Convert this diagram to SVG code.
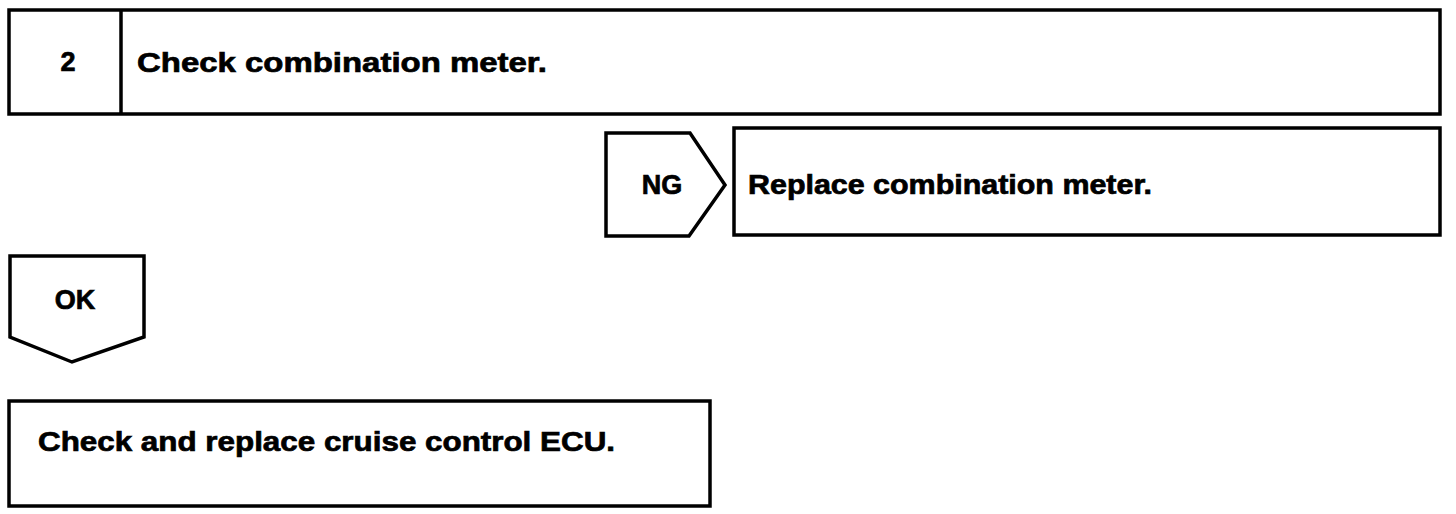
<svg xmlns="http://www.w3.org/2000/svg" width="1456" height="514" viewBox="0 0 1456 514">
<style>
.b{fill:#fff;stroke:#000;stroke-width:3.5;stroke-linejoin:miter}
.t{font-family:"Liberation Sans",Arial,sans-serif;font-weight:bold;font-size:27px;fill:#000;stroke:#000;stroke-width:0.7}
</style>
<rect width="1456" height="514" fill="#fff"/>
<g id="step2">
<rect class="b" x="9" y="10" width="1431" height="104"/>
<line x1="121" y1="10" x2="121" y2="114" stroke="#000" stroke-width="3.5"/>
<text class="t" x="68" y="71" text-anchor="middle">2</text>
<text class="t" x="137" y="72" textLength="410" lengthAdjust="spacingAndGlyphs">Check combination meter.</text>
</g>
<g id="ng">
<path class="b" d="M606,133 L690,133 L725,185 L689,236 L606,236 Z"/>
<text class="t" x="662" y="194" text-anchor="middle">NG</text>
</g>
<g id="replace-meter">
<rect class="b" x="734" y="128" width="706" height="107"/>
<text class="t" x="748" y="194" textLength="404" lengthAdjust="spacingAndGlyphs">Replace combination meter.</text>
</g>
<g id="ok">
<path class="b" d="M10,256 L144,256 L144,337 L72,362 L10,337 Z"/>
<text class="t" x="75" y="309" text-anchor="middle">OK</text>
</g>
<g id="replace-ecu">
<rect class="b" x="9" y="401" width="701" height="105"/>
<text class="t" x="38" y="451" textLength="577" lengthAdjust="spacingAndGlyphs">Check and replace cruise control ECU.</text>
</g>
<g id="connectors"></g>
</svg>
